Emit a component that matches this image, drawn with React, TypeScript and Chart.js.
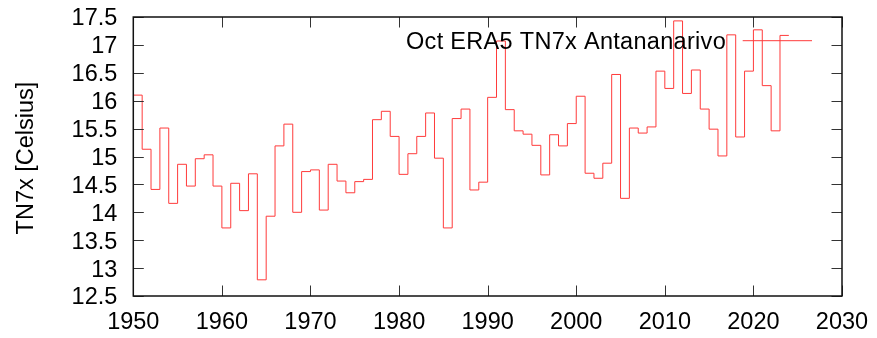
import React, { useEffect, useRef } from "react";
import { Chart, registerables } from "chart.js";

Chart.register(...registerables);

const years: number[] = [
  1950, 1951, 1952, 1953, 1954, 1955, 1956, 1957, 1958, 1959,
  1960, 1961, 1962, 1963, 1964, 1965, 1966, 1967, 1968, 1969,
  1970, 1971, 1972, 1973, 1974, 1975, 1976, 1977, 1978, 1979,
  1980, 1981, 1982, 1983, 1984, 1985, 1986, 1987, 1988, 1989,
  1990, 1991, 1992, 1993, 1994, 1995, 1996, 1997, 1998, 1999,
  2000, 2001, 2002, 2003, 2004, 2005, 2006, 2007, 2008, 2009,
  2010, 2011, 2012, 2013, 2014, 2015, 2016, 2017, 2018, 2019,
  2020, 2021, 2022, 2023,
];

const tn7x: number[] = [
  16.1, 15.13, 14.41, 15.51, 14.16, 14.86, 14.47, 14.96, 15.03, 14.47,
  13.72, 14.52, 14.03, 14.69, 12.79, 13.93, 15.19, 15.58, 14.0, 14.73,
  14.76, 14.04, 14.86, 14.56, 14.35, 14.55, 14.59, 15.66, 15.81, 15.36,
  14.68, 15.05, 15.36, 15.78, 14.97, 13.72, 15.68, 15.85, 14.4, 14.54,
  16.06, 17.07, 15.84, 15.46, 15.4, 15.2, 14.67, 15.39, 15.19, 15.59,
  16.08, 14.7, 14.61, 14.88, 16.47, 14.25, 15.51, 15.42, 15.53, 16.53,
  16.22, 17.43, 16.13, 16.55, 15.85, 15.49, 15.01, 17.18, 15.35, 16.53,
  17.27, 16.27, 15.46, 17.17,
];

const seriesLabel = "Oct ERA5 TN7x Antananarivo";
const yTitle = "TN7x [Celsius]";
const xMin = 1950;
const xMax = 2030;
const xStep = 10;
const yMin = 12.5;
const yMax = 17.5;
const yStep = 0.5;

const FONT_SIZE = 23.5;
const FONT = `${FONT_SIZE}px "Liberation Sans", Arial, Helvetica, sans-serif`;
const LINE_COLOR = "#ff3b3b";

const gnuplotLook = {
  id: "gnuplotLook",
  afterDraw(chart: any) {
    const { ctx, chartArea } = chart;
    const xs = chart.scales.x;
    const ys = chart.scales.y;
    const { left, right, top, bottom } = chartArea;
    ctx.save();
    // tick marks (inward, mirrored)
    ctx.strokeStyle = "#333";
    ctx.lineWidth = 1;
    const tl = 10.5;
    xs.ticks.forEach((t: any) => {
      const x = Math.round(xs.getPixelForValue(t.value)) + 0.5;
      ctx.beginPath();
      ctx.moveTo(x, bottom);
      ctx.lineTo(x, bottom - tl);
      ctx.moveTo(x, top);
      ctx.lineTo(x, top + tl);
      ctx.stroke();
    });
    ys.ticks.forEach((t: any) => {
      const y = Math.round(ys.getPixelForValue(t.value)) + 0.5;
      ctx.beginPath();
      ctx.moveTo(left, y);
      ctx.lineTo(left + tl, y);
      ctx.moveTo(right, y);
      ctx.lineTo(right - tl, y);
      ctx.stroke();
    });
    // frame
    ctx.strokeStyle = "#111";
    ctx.lineWidth = 1.5;
    ctx.strokeRect(left, top, right - left, bottom - top);

    // tick labels
    ctx.fillStyle = "#000";
    ctx.font = FONT;
    const capHalf = FONT_SIZE * 0.716 / 2;
    ctx.textAlign = "right";
    ctx.textBaseline = "alphabetic";
    ys.ticks.forEach((t: any) => {
      const y = ys.getPixelForValue(t.value);
      ctx.fillText(String(t.value), left - 16, y + capHalf);
    });
    ctx.textAlign = "center";
    xs.ticks.forEach((t: any) => {
      const x = xs.getPixelForValue(t.value);
      ctx.fillText(String(t.value), x, bottom + 33.3);
    });

    // y title
    ctx.save();
    ctx.translate(32.7, (top + bottom) / 2 + 1.5);
    ctx.rotate(-Math.PI / 2);
    ctx.textAlign = "center";
    ctx.textBaseline = "alphabetic";
    ctx.fillText(yTitle, 0, 0);
    ctx.restore();

    // legend
    const label = chart.data.datasets[0].label;
    ctx.save();
    ctx.textAlign = "right";
    ctx.textBaseline = "alphabetic";
    try {
      (ctx as any).letterSpacing = "0.3px";
    } catch (e) {}
    ctx.fillText(label, 726, 49.3);
    ctx.restore();
    ctx.strokeStyle = LINE_COLOR;
    ctx.lineWidth = 1;
    ctx.beginPath();
    ctx.moveTo(742.7, 40.7);
    ctx.lineTo(812, 40.7);
    ctx.stroke();
    ctx.restore();
  },
};

export default function App() {
  const canvasRef = useRef<HTMLCanvasElement | null>(null);

  useEffect(() => {
    document.body.style.margin = "0";
    const canvas = canvasRef.current;
    if (!canvas) return;
    const points = years.map((y, i) => ({ x: y, y: tn7x[i] }));
    points.push({ x: years[years.length - 1] + 1, y: tn7x[tn7x.length - 1] });

    const chart = new Chart(canvas, {
      type: "line",
      data: {
        datasets: [
          {
            label: seriesLabel,
            data: points,
            borderColor: LINE_COLOR,
            borderWidth: 1,
            pointRadius: 0,
            stepped: "before",
            fill: false,
          },
        ],
      },
      options: {
        animation: false,
        responsive: false,
        maintainAspectRatio: false,
        devicePixelRatio: 1,
        layout: { padding: { left: 0, right: 35, top: 17, bottom: 0 } },
        plugins: {
          legend: { display: false },
          tooltip: { enabled: false },
        },
        scales: {
          x: {
            type: "linear",
            min: xMin,
            max: xMax,
            ticks: { stepSize: xStep, display: false },
            grid: { display: false, drawTicks: false, tickLength: 0 },
            border: { display: false },
            afterFit: (s: any) => {
              s.height = 42;
            },
          },
          y: {
            type: "linear",
            min: yMin,
            max: yMax,
            ticks: { stepSize: yStep, display: false },
            grid: { display: false, drawTicks: false, tickLength: 0 },
            border: { display: false },
            afterFit: (s: any) => {
              s.width = 133.3;
            },
          },
        },
      },
      plugins: [gnuplotLook],
    });
    return () => chart.destroy();
  }, []);

  return (
    <div style={{ position: "fixed", left: 0, top: 0, width: 877, height: 338, background: "#fff" }}>
      <canvas ref={canvasRef} width={877} height={338} style={{ width: 877, height: 338, display: "block" }} />
    </div>
  );
}
